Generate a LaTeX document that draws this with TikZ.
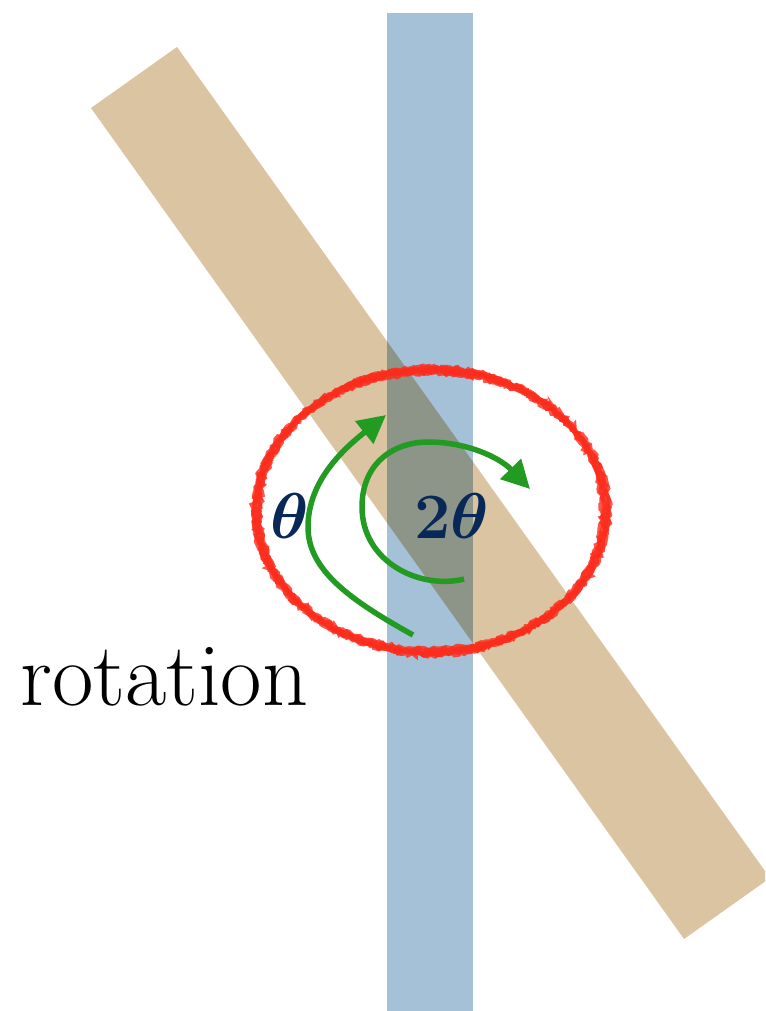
\documentclass[tikz,border=0pt]{standalone}
\usepackage{amsmath}
\usepackage{graphicx}
\usetikzlibrary{arrows.meta,decorations.pathmorphing}

\definecolor{barblue}{RGB}{165,193,216}
\definecolor{bartan}{RGB}{219,196,161}
\definecolor{chalkred}{RGB}{252,44,28}
\definecolor{arrowgreen}{RGB}{35,155,35}
\definecolor{labelnavy}{RGB}{8,40,88}

% big bold angle label (math fonts stop at \Huge, so scale it up)
\newcommand{\anglab}[1]{\scalebox{2.6}{\Huge$\boldsymbol{#1}$}}

\tikzset{
  turn/.style={arrowgreen, line width=5.5pt, -{Triangle[length=28pt,width=28pt]}},
  anglabel/.style={text=labelnavy, inner sep=0pt},
  chalk/.style={chalkred, line width=4pt, opacity=0.8,
    decorate, decoration={random steps, segment length=3pt, amplitude=1.8pt}}
}

\begin{document}
\begin{tikzpicture}[x=1pt, y=-1pt]
\useasboundingbox (0,0) rectangle (765,1011);
\clip (0,0) rectangle (765,1011);

% Bar corners (pixel grid, y down)
\coordinate (A) at (91,108);   % tan, upper left
\coordinate (B) at (177,47);   % tan, upper right
\coordinate (C) at (770,878);  % tan, lower right
\coordinate (D) at (684,939);  % tan, lower left

% Centre of the circled crossing
\coordinate (O) at (431,511);

% Vertical bar
\fill[barblue] (387,13) rectangle (473,1011);

% Tilted bar, laid over the vertical one
\fill[bartan, blend mode=multiply] (A) -- (B) -- (C) -- (D) -- cycle;

% Rough red ring round the crossing
\pgfmathsetseed{7}
\foreach \dx/\dy in {0/0, 3/-3, -3/3, 2/2, -2/-2, 4/1} {
    \draw[chalk] (O) ellipse [x radius={174pt+\dx pt}, y radius={141pt+\dy pt}];
}

% Ends of the two turning arrows
\coordinate (t1) at (413,635);
\coordinate (t1L) at (308,527);
\coordinate (t1E) at (386,415);
\coordinate (t2) at (464,579);
\coordinate (t2L) at (362,507);
\coordinate (t2T) at (428,442);
\coordinate (t2E) at (530,489);

% Arrows
\draw[turn] (t1) .. controls (350,600) and (308,570) .. (t1L)
    .. controls (308,480) and (345,448) .. (t1E);
\draw[turn] (t2) .. controls (420,590) and (362,562) .. (t2L)
    .. controls (362,462) and (395,442) .. (t2T)
    .. controls (468,442) and (500,458) .. (t2E);

% Labels
\node[anglabel] (theta) at (290,516) {\anglab{\theta}};
\node[anglabel] (twotheta) at (452,516) {\anglab{2\theta}};
\node[anchor=base west, inner sep=0pt, font=\fontsize{90}{90}\selectfont] (rot) at (20,705) {rotation};
\end{tikzpicture}
\end{document}
